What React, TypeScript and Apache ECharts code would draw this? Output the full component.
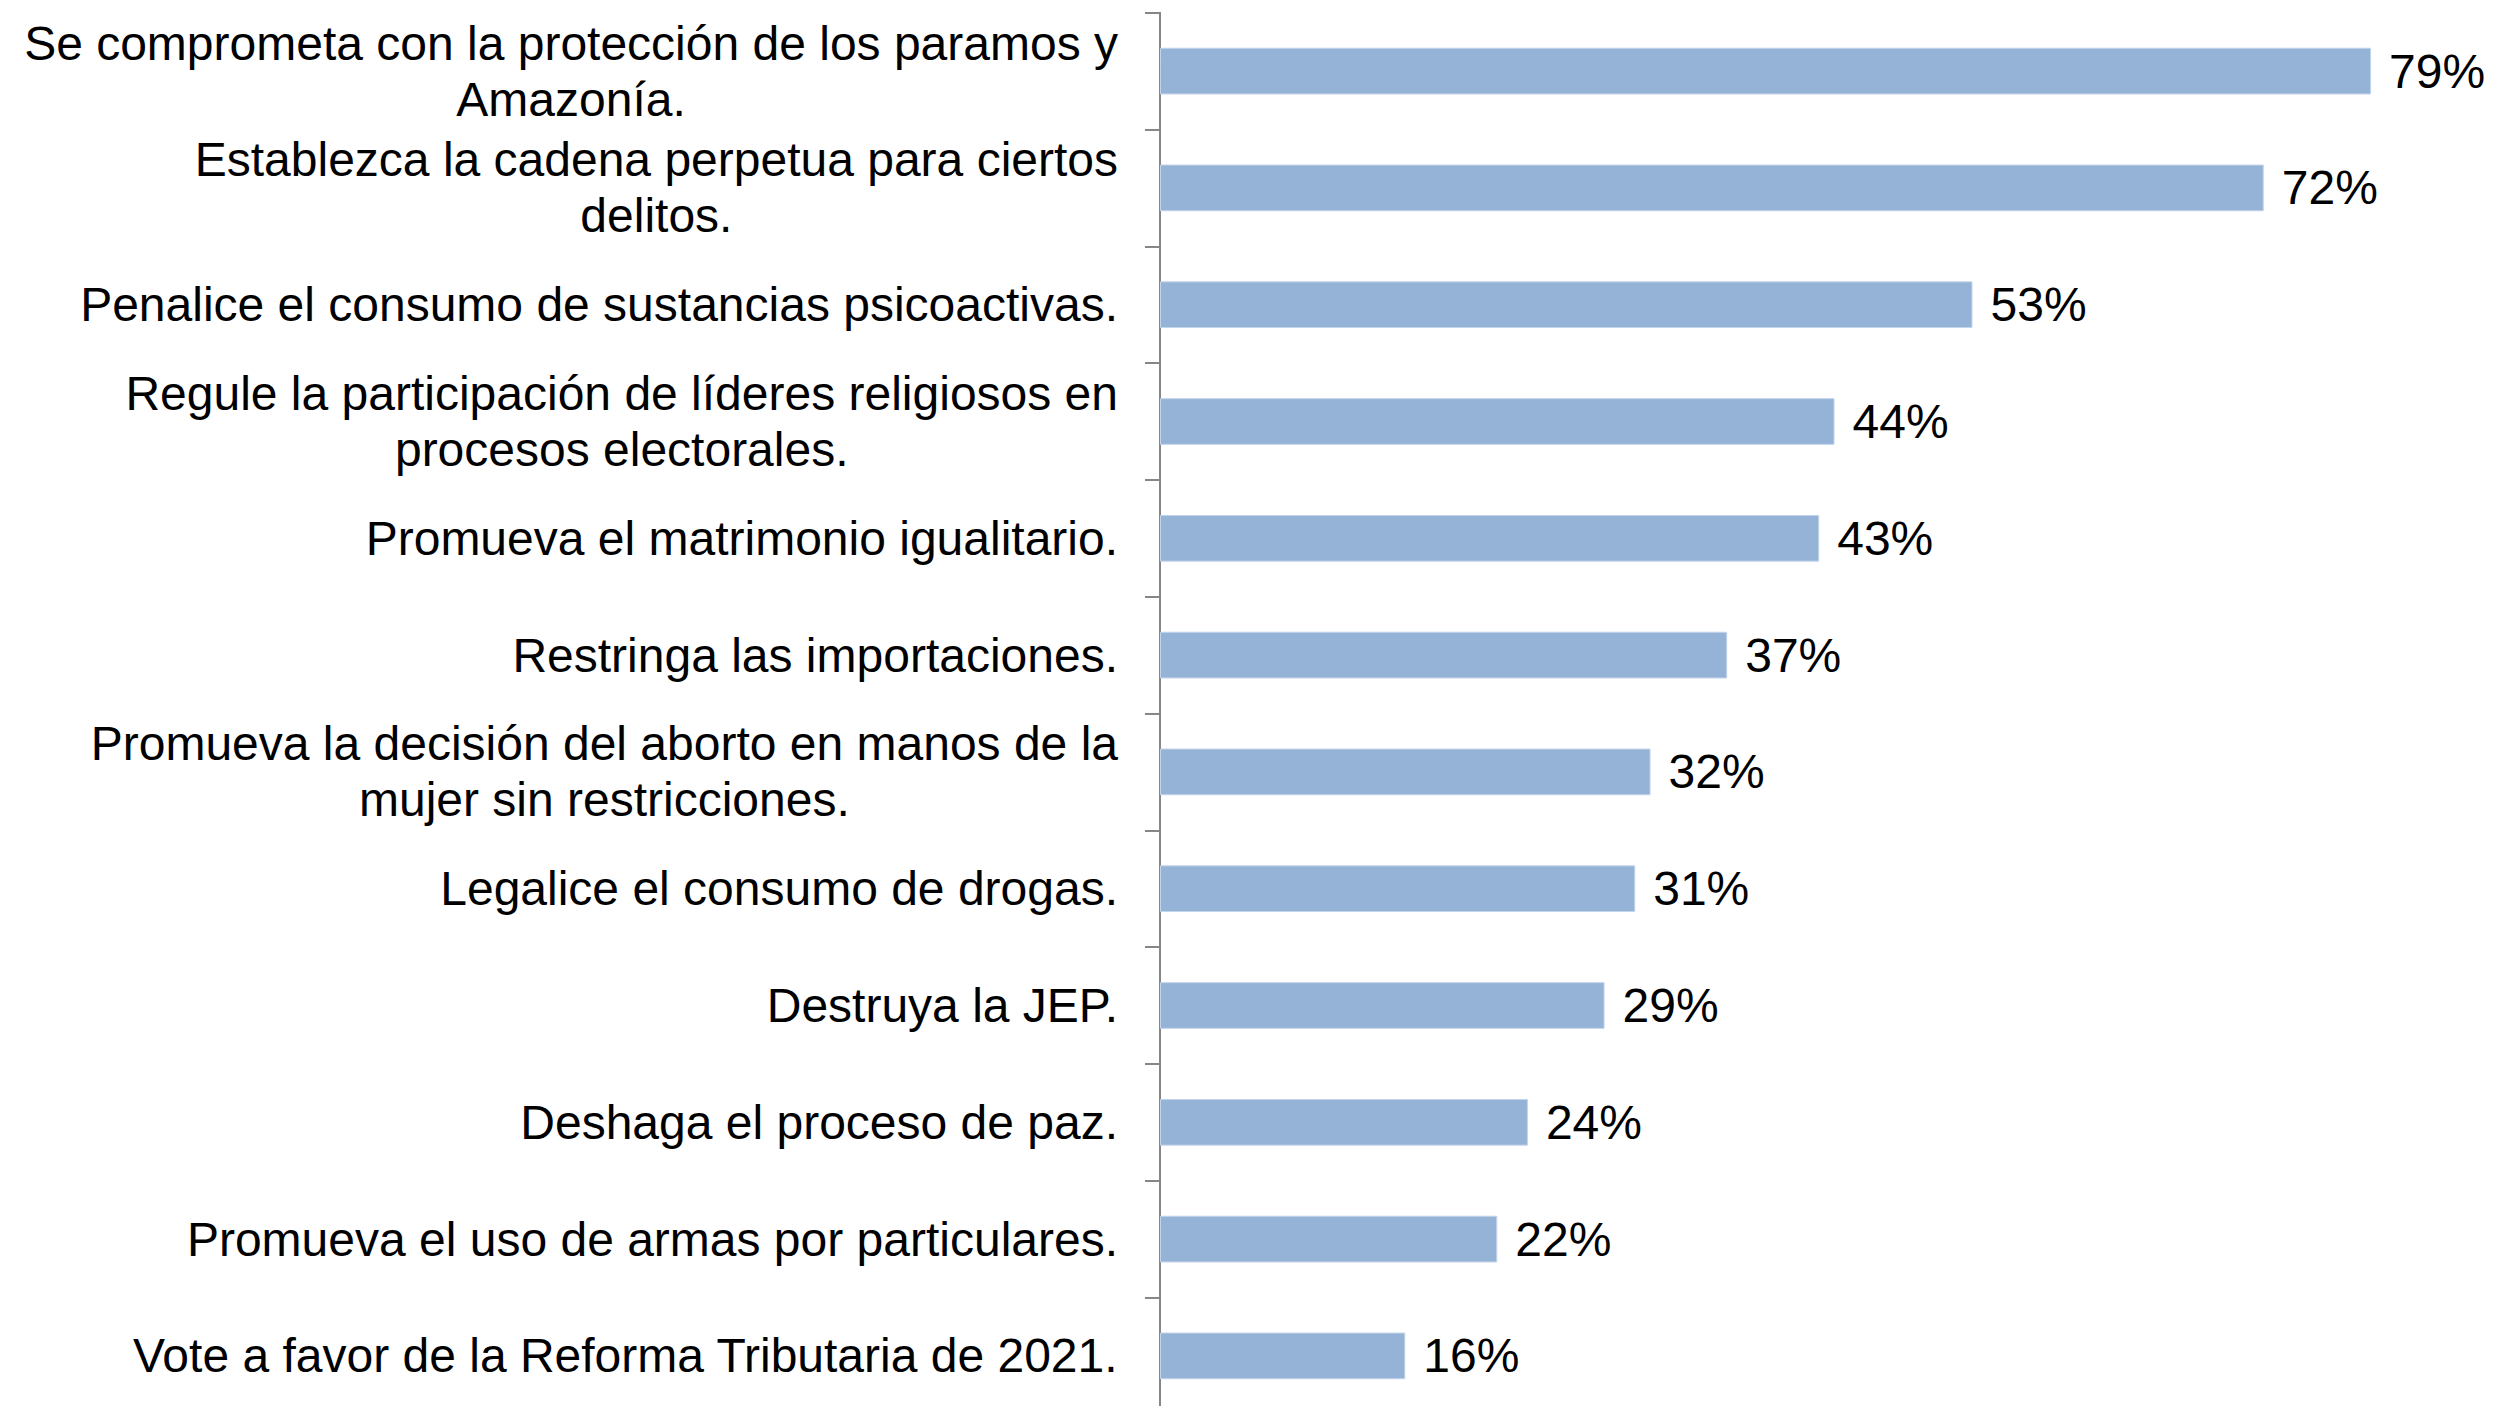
import React, { useEffect, useRef } from "react";
import * as echarts from "echarts";

const categories: string[] = [
  "Se comprometa con la protección de los paramos y\nAmazonía.",
  "Establezca la cadena perpetua para ciertos\ndelitos.",
  "Penalice el consumo de sustancias psicoactivas.",
  "Regule la participación de líderes religiosos en\nprocesos electorales.",
  "Promueva el matrimonio igualitario.",
  "Restringa las importaciones.",
  "Promueva la decisión del aborto en manos de la\nmujer sin restricciones.",
  "Legalice el consumo de drogas.",
  "Destruya la JEP.",
  "Deshaga el proceso de paz.",
  "Promueva el uso de armas por particulares.",
  "Vote a favor de la Reforma Tributaria de 2021.",
];

const values: number[] = [79, 72, 53, 44, 43, 37, 32, 31, 29, 24, 22, 16];

const FONT = "'Liberation Sans', Arial, sans-serif";

export default function App() {
  const ref = useRef<HTMLDivElement>(null);

  useEffect(() => {
    document.body.style.margin = "0";
    document.body.style.overflow = "hidden";
    const chart = echarts.init(ref.current!, null, { renderer: "svg" });
    chart.setOption({
      animation: false,
      backgroundColor: "#ffffff",
      grid: { left: 1160, right: 107.6, top: 12.7, bottom: 5.7, containLabel: false },
      xAxis: {
        type: "value",
        min: 0,
        max: 80,
        show: false,
      },
      yAxis: {
        type: "category",
        inverse: true,
        data: categories,
        axisLine: { show: true, lineStyle: { color: "#868686", width: 2 } },
        axisTick: { show: true, inside: false, length: 15, lineStyle: { color: "#868686", width: 2 } },
        splitLine: { show: false },
        axisLabel: {
          margin: 42,
          fontFamily: FONT,
          fontSize: 48,
          color: "#000000",
          lineHeight: 56,
          formatter: (v: string) =>
            v
              .split("\n")
              .map((line) => `{c|${line}}`)
              .join("\n"),
          rich: {
            c: {
              align: "center",
              fontFamily: FONT,
              fontSize: 48,
              lineHeight: 56,
              color: "#000000",
            },
          },
        },
      },
      series: [
        {
          type: "bar",
          data: values,
          barCategoryGap: "60%",
          itemStyle: { color: "#95B3D7", borderColor: "#C3D4EA", borderWidth: 1 },
          label: {
            show: true,
            position: "right",
            distance: 18,
            formatter: "{c}%",
            fontFamily: FONT,
            fontSize: 48,
            color: "#000000",
          },
        },
      ],
    });
    return () => chart.dispose();
  }, []);

  return (
    <div
      ref={ref}
      style={{ position: "absolute", left: 0, top: 0, width: 2494, height: 1420, background: "#fff" }}
    />
  );
}
